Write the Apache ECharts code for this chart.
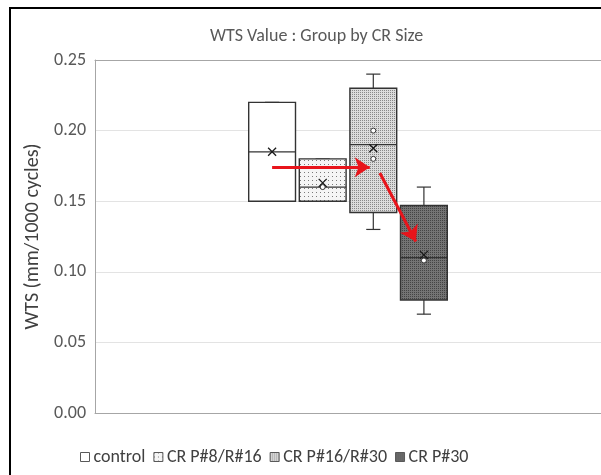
<!DOCTYPE html>
<html>
<head>
<meta charset="utf-8">
<script src="https://cdn.jsdelivr.net/npm/echarts@6/dist/echarts.min.js"></script>
<style>
html,body{margin:0;padding:0;background:#fff;overflow:hidden;}
#chart{width:601px;height:475px;}
</style>
</head>
<body>
<div id="chart"></div>
<script>
// ---- data ----
var categories = ['control', 'CR P#8/R#16', 'CR P#16/R#30', 'CR P#30'];
var whiskerMin = [0.150, 0.150, 0.130, 0.070];
var quart1     = [0.150, 0.150, 0.142, 0.080];
var medians    = [0.185, 0.160, 0.190, 0.110];
var quart3     = [0.220, 0.180, 0.230, 0.147];
var whiskerMax = [0.220, 0.180, 0.240, 0.160];
var means      = [0.185, 0.163, 0.1875, 0.112];
var innerPoints = [[], [0.160], [0.200, 0.180], [0.108]];
var yTicks = [0, 0.05, 0.10, 0.15, 0.20, 0.25];
// red annotation arrows, in data units [group position, value]
var arrows = [
  [[0.0, 0.174], [1.93, 0.174]],
  [[2.13, 0.170], [2.84, 0.1215]]
];

// ---- fill patterns ----
function makePattern(bg, dot, step, size) {
  var cv = document.createElement('canvas');
  cv.width = step; cv.height = step;
  var ctx = cv.getContext('2d');
  ctx.fillStyle = bg; ctx.fillRect(0, 0, step, step);
  if (dot) { ctx.fillStyle = dot; ctx.fillRect(0, 0, size, size); }
  return { image: cv, repeat: 'repeat' };
}
var fills = [
  '#ffffff',
  makePattern('#f5f5f5', '#7a7a7a', 4, 1),
  makePattern('#dcdcdc', '#888888', 2, 1),
  makePattern('#747474', '#444444', 2, 1)
];
var boxStroke = '#333333';

function renderBox(params, api) {
  var x = api.value(0);
  var pMin = api.coord([x, api.value(1)]);
  var pQ1 = api.coord([x, api.value(2)]);
  var pMed = api.coord([x, api.value(3)]);
  var pQ3 = api.coord([x, api.value(4)]);
  var pMax = api.coord([x, api.value(5)]);
  var band = api.size([1, 0])[0];
  var w = band * 0.925;
  var cap = band * 0.28;
  var cx = pMin[0];
  var ls = { stroke: boxStroke, lineWidth: 1.2 };
  var children = [
    { type: 'line', shape: { x1: cx, y1: pQ3[1], x2: cx, y2: pMax[1] }, style: ls },
    { type: 'line', shape: { x1: cx - cap / 2, y1: pMax[1], x2: cx + cap / 2, y2: pMax[1] }, style: ls },
    { type: 'line', shape: { x1: cx, y1: pQ1[1], x2: cx, y2: pMin[1] }, style: ls },
    { type: 'line', shape: { x1: cx - cap / 2, y1: pMin[1], x2: cx + cap / 2, y2: pMin[1] }, style: ls },
    { type: 'rect', shape: { x: cx - w / 2, y: pQ3[1], width: w, height: pQ1[1] - pQ3[1] },
      style: { fill: fills[params.seriesIndex], stroke: boxStroke, lineWidth: 1.4 } },
    { type: 'line', shape: { x1: cx - w / 2, y1: pMed[1], x2: cx + w / 2, y2: pMed[1] }, style: ls }
  ];
  return { type: 'group', children: children };
}

var series = categories.map(function (name, i) {
  return {
    name: name,
    type: 'custom',
    renderItem: renderBox,
    encode: { x: 0, y: [1, 2, 3, 4, 5] },
    itemStyle: { color: fills[i], borderColor: boxStroke, borderWidth: 1 },
    data: [[i, whiskerMin[i], quart1[i], medians[i], quart3[i], whiskerMax[i]]],
    z: 2
  };
});

var pointData = [];
innerPoints.forEach(function (arr, i) { arr.forEach(function (v) { pointData.push([i, v]); }); });

series.push({
  name: 'inner points',
  type: 'scatter',
  symbol: 'circle',
  symbolSize: 5,
  itemStyle: { color: '#ffffff', borderColor: '#333333', borderWidth: 1, opacity: 1 },
  data: pointData,
  z: 4,
  silent: true
});
series.push({
  name: 'mean',
  type: 'scatter',
  symbol: 'path://M0,0L10,10M10,0L0,10',
  symbolSize: 8,
  itemStyle: { color: 'rgba(0,0,0,0)', borderColor: '#1a1a1a', borderWidth: 1.3, opacity: 1 },
  data: means.map(function (v, i) { return [i, v]; }),
  z: 5,
  silent: true,
  markLine: {
    silent: true,
    symbol: ['none', 'arrow'],
    symbolSize: 15,
    label: { show: false },
    lineStyle: { color: '#e8141b', width: 3, type: 'solid', opacity: 1 },
    emphasis: { disabled: true },
    animation: false,
    data: arrows.map(function (a) { return [{ coord: a[0] }, { coord: a[1] }]; })
  }
});

var font = 'Carlito, "Open Sans", sans-serif';
var axisGrey = '#a6a6a6';
var chart = echarts.init(document.getElementById('chart'), null, { renderer: 'canvas' });
chart.setOption({
  animation: false,
  backgroundColor: '#ffffff',
  textStyle: { fontFamily: font },
  graphic: [{
    type: 'polyline', shape: { points: [[10, 480], [10, 8], [610, 8]] },
    style: { fill: 'none', stroke: '#000000', lineWidth: 2 }, silent: true, z: 100
  }],
  title: {
    text: 'WTS Value : Group by CR Size',
    left: 205,
    top: 22,
    textStyle: { fontFamily: font, fontSize: 18, fontWeight: 'normal', color: '#595959' }
  },
  legend: {
    data: categories.map(function (c, i) {
      return { name: c, icon: 'rect', itemStyle: { color: fills[i], borderColor: '#595959', borderWidth: 1 } };
    }),
    bottom: 4,
    left: 75,
    itemWidth: 9,
    itemHeight: 9,
    itemGap: 8,
    selectedMode: false,
    textStyle: { fontFamily: font, fontSize: 18, color: '#404040', padding: [0, 0, 0, -1] }
  },
  grid: { left: 95, right: 0, top: 60, bottom: 62 },
  xAxis: [{
    type: 'value', min: -3.5, max: 6.5, position: 'bottom',
    axisLine: { show: true, onZero: false, lineStyle: { color: axisGrey } },
    axisTick: { show: false }, axisLabel: { show: false }, splitLine: { show: false }
  }, {
    type: 'value', min: -3.5, max: 6.5, position: 'top',
    axisLine: { show: true, onZero: false, lineStyle: { color: axisGrey } },
    axisTick: { show: false }, axisLabel: { show: false }, splitLine: { show: false }
  }],
  yAxis: {
    type: 'value', min: yTicks[0], max: yTicks[yTicks.length - 1], interval: 0.05,
    name: 'WTS (mm/1000 cycles)', nameLocation: 'middle', nameGap: 49,
    nameTextStyle: { fontFamily: font, fontSize: 20, color: '#404040' },
    axisLine: { show: true, onZero: false, lineStyle: { color: axisGrey } }, axisTick: { show: false },
    axisLabel: { margin: 9, fontFamily: font, fontSize: 18, color: '#595959', formatter: function (v) { return v.toFixed(2); } },
    splitLine: { lineStyle: { color: '#e3e3e3', width: 1 } }
  },
  series: series
});
</script>
</body>
</html>
